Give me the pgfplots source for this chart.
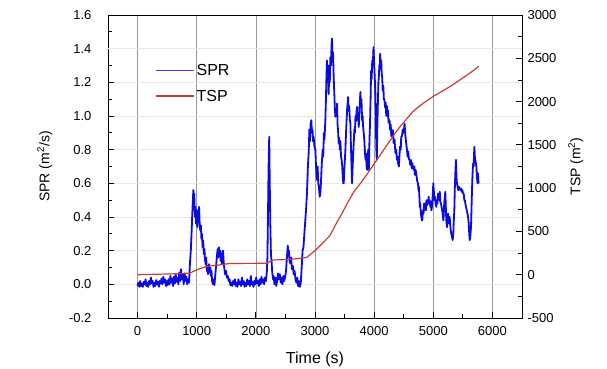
\documentclass[border=0pt]{standalone}
\usepackage{fontspec}
\setmainfont{Liberation Sans}
\usepackage{pgfplots}
\pgfplotsset{compat=1.18}
\definecolor{sprblue}{RGB}{10,10,225}
\definecolor{tspred}{RGB}{200,60,50}
\begin{document}
\begin{tikzpicture}
\path[use as bounding box] (-108pt,-50pt) rectangle (499pt,318pt);
\begin{axis}[
  at={(0pt,0pt)}, anchor=south west,
  scale only axis, width=414pt, height=303pt,
  xmin=-500, xmax=6500, ymin=-0.2, ymax=1.6,
  xtick={0,1000,2000,3000,4000,5000,6000}, minor x tick num=1,
  ytick={-0.2,0,0.2,0.4,0.6,0.8,1.0,1.2,1.4,1.6}, minor y tick num=1,
  tick align=inside, xtick pos=bottom, ytick pos=left,
  major tick length=6pt, minor tick length=4pt,
  every tick/.style={black, line width=0.8pt},
  axis line style={black, line width=0.9pt},
  /pgf/number format/assume math mode=true,
  xticklabel style={/pgf/number format/1000 sep={}, yshift=-5pt},
  yticklabel style={/pgf/number format/.cd, fixed, fixed zerofill, precision=1, /tikz/.cd, xshift=-13pt},
  tick label style={font=\fontsize{13}{13}\selectfont},
  xmajorgrids, ymajorgrids,
  major x grid style={black!40, line width=0.6pt},
  major y grid style={black!9, line width=0.8pt},
  extra y ticks={1.4}, extra y tick labels={},
  extra y tick style={grid=major, major grid style={black!35, line width=0.9pt}, major tick length=0pt},
  xlabel={Time (s)}, ylabel={SPR (m\textsuperscript{2}/s)},
  xlabel shift=9pt, ylabel shift=10pt,
  xlabel style={font=\fontsize{16}{16}\selectfont},
  ylabel style={font=\fontsize{14}{14}\selectfont},
]
\addplot[sprblue, line width=1.8pt, line join=round] coordinates {
(0,-0.01) (15,0.01) (30,-0.015) (45,0.02) (60,-0.01) (75,0.005) (90,-0.015) (105,0.015) (120,0.0) (135,0.03) (150,-0.01) (165,0.01) (180,-0.015) (195,0.02) (210,0.0) (225,0.04) (240,0.005) (255,0.02) (270,-0.015) (285,0.01) (300,-0.01) (315,0.025) (330,0.0) (345,0.015) (360,-0.015) (375,0.02) (390,0.005) (405,0.035) (420,0.0) (435,0.045) (450,0.01) (465,0.03) (480,-0.01) (495,0.02) (510,-0.005) (525,0.03) (540,0.0) (555,0.05) (570,0.01) (585,0.035) (600,-0.01) (615,0.045) (630,0.005) (645,0.06) (660,0.015) (675,0.04) (690,0.0) (705,0.07) (720,0.02) (735,0.09) (750,0.03) (765,0.06) (780,0.0) (795,0.065) (810,0.02) (825,0.045) (840,0.0) (855,0.03) (870,0.01)
(885,0.12) (900,0.2) (915,0.32) (925,0.42) (935,0.5) (943,0.56) (950,0.5) (958,0.54) (965,0.44) (972,0.4) (980,0.46) (990,0.36) (1000,0.4) (1010,0.34) (1020,0.44) (1030,0.38) (1040,0.46) (1050,0.36) (1060,0.32) (1070,0.35) (1080,0.27) (1090,0.3) (1100,0.22) (1110,0.26) (1120,0.18) (1130,0.21) (1140,0.15) (1150,0.12) (1160,0.16) (1170,0.08) (1180,0.11) (1190,0.06) (1200,0.1) (1210,0.12) (1220,0.07) (1230,0.1) (1240,0.05) (1250,0.08) (1260,0.02) (1275,0.0) (1290,0.03) (1300,-0.005) (1315,0.06) (1330,0.12) (1345,0.18) (1355,0.21) (1365,0.16) (1375,0.22) (1385,0.18) (1395,0.2) (1405,0.14) (1415,0.16) (1425,0.12) (1435,0.19) (1445,0.2) (1455,0.14) (1465,0.1) (1480,0.06) (1495,0.08) (1510,0.04) (1525,0.05) (1540,0.02) (1555,0.03) (1570,-0.005) (1585,0.01)
(1600,-0.01) (1615,0.02) (1630,0.0) (1645,0.03) (1660,-0.01) (1675,0.01) (1690,-0.015) (1705,0.03) (1720,0.0) (1735,0.015) (1750,-0.01) (1765,0.04) (1780,0.0) (1795,0.02) (1810,-0.015) (1825,0.01) (1840,-0.01) (1855,0.03) (1870,0.0) (1885,0.02) (1900,-0.01) (1915,0.05) (1930,0.0) (1945,0.015) (1960,-0.015) (1975,0.02) (1990,0.0) (2005,0.04) (2020,0.005) (2035,0.02) (2050,-0.01) (2065,0.03) (2080,0.0) (2095,0.045) (2110,0.01) (2125,0.03) (2140,0.0) (2155,0.04) (2170,0.02) (2185,0.07) (2195,0.15) (2205,0.4) (2215,0.7) (2226,0.876) (2235,0.6) (2245,0.35) (2255,0.18) (2265,0.14) (2275,0.08) (2290,0.03) (2300,0.05) (2315,0.0) (2330,0.04) (2345,-0.01) (2360,0.02) (2375,0.065) (2390,0.03) (2405,0.06) (2420,0.01) (2435,0.04) (2450,0.0) (2465,0.05) (2480,0.02) (2495,0.045) (2510,0.08) (2525,0.16) (2540,0.23) (2550,0.17) (2560,0.2) (2570,0.14) (2582,0.125) (2595,0.16) (2610,0.09) (2625,0.11) (2640,0.06) (2655,0.08) (2670,0.03) (2685,0.01) (2700,0.04) (2715,-0.01) (2730,0.02) (2745,-0.015) (2760,0.01)
(2775,0.1) (2790,0.2) (2805,0.22) (2820,0.3) (2836,0.38) (2850,0.45) (2864,0.54) (2880,0.7) (2893,0.78) (2905,0.92) (2915,0.85) (2925,0.95) (2938,0.975) (2948,0.9) (2958,0.92) (2968,0.85) (2977,0.876) (2990,0.82) (3006,0.8) (3015,0.72) (3025,0.66) (3034,0.62) (3045,0.7) (3055,0.6) (3065,0.58) (3080,0.52) (3090,0.54) (3100,0.6) (3110,0.68) (3118,0.74) (3130,0.8) (3140,0.76) (3150,0.9) (3160,0.86) (3175,0.975) (3185,1.1) (3195,1.25) (3203,1.33) (3212,1.2) (3222,1.3) (3231,1.13) (3240,1.25) (3250,1.2) (3260,1.35) (3270,1.3) (3280,1.42) (3288,1.46) (3296,1.32) (3305,1.38) (3316,1.23) (3325,1.15) (3335,1.05) (3345,0.995) (3355,1.04) (3365,1.0) (3373,1.074) (3382,0.95) (3392,0.9) (3401,0.837) (3410,0.87) (3420,0.8) (3430,0.85) (3440,0.76) (3450,0.74) (3460,0.7) (3470,0.64) (3478,0.6) (3486,0.6) (3495,0.68) (3505,0.74) (3514,0.8) (3525,0.9) (3535,0.98) (3545,1.05) (3553,1.08) (3559,1.113) (3568,1.03) (3578,1.06) (3588,0.98) (3599,0.955) (3608,0.82) (3618,0.7) (3627,0.6) (3637,0.7) (3646,0.78) (3655,0.837) (3665,0.92) (3675,0.9) (3685,1.0) (3695,0.97) (3703,1.03) (3712,1.054) (3722,0.98) (3730,1.0) (3740,0.935) (3748,1.0) (3758,1.08) (3768,1.143) (3778,1.05) (3786,1.1) (3796,0.975) (3805,1.0) (3815,0.93) (3825,0.896) (3835,0.85) (3845,0.78) (3855,0.74) (3864,0.777) (3872,0.7) (3881,0.68) (3890,0.72) (3900,0.8) (3910,0.68) (3921,0.857) (3930,0.95) (3940,1.1) (3949,1.27) (3958,1.22) (3968,1.33) (3978,1.3) (3989,1.41) (3998,1.33) (4008,1.25) (4016,1.18) (4023,1.113) (4032,0.9) (4039,0.78) (4045,0.74) (4055,0.95) (4065,1.1) (4072,1.2) (4079,1.23) (4088,1.3) (4095,1.28) (4102,1.37) (4110,1.3) (4120,1.33) (4128,1.25) (4136,1.23) (4145,1.15) (4155,1.18) (4165,1.1) (4175,1.094) (4185,1.05) (4195,1.08) (4205,1.0) (4215,1.06) (4225,1.0) (4232,1.034) (4245,0.96) (4260,0.975) (4270,0.92) (4280,0.95) (4290,0.88) (4300,0.9) (4317,0.916) (4330,0.84) (4345,0.86) (4360,0.78) (4373,0.8) (4385,0.74) (4395,0.76) (4405,0.72) (4418,0.70) (4430,0.78) (4440,0.82) (4450,0.8) (4458,0.876) (4470,0.88) (4485,0.92) (4500,0.9) (4514,0.955) (4525,0.9) (4535,0.86) (4542,0.837) (4555,0.8) (4565,0.76) (4575,0.79) (4590,0.74) (4599,0.74) (4610,0.71) (4620,0.74) (4635,0.69) (4645,0.72) (4655,0.70) (4668,0.68) (4680,0.7) (4690,0.65) (4700,0.68) (4712,0.66) (4725,0.62) (4740,0.6) (4750,0.56) (4757,0.58) (4765,0.52) (4772,0.46) (4780,0.48) (4790,0.42) (4800,0.4) (4808,0.38) (4814,0.38) (4825,0.44) (4835,0.42) (4845,0.48) (4853,0.46) (4864,0.48) (4875,0.44) (4885,0.5) (4895,0.47) (4905,0.5) (4915,0.48) (4921,0.52) (4930,0.48) (4940,0.5) (4950,0.46) (4960,0.49) (4968,0.44) (4977,0.46) (4985,0.5) (4993,0.54) (5000,0.60) (5010,0.55) (5020,0.5) (5030,0.52) (5040,0.48) (5051,0.46) (5060,0.5) (5070,0.48) (5080,0.54) (5090,0.52) (5100,0.5) (5110,0.55) (5120,0.49) (5130,0.48) (5140,0.46) (5150,0.44) (5160,0.42) (5170,0.38) (5175,0.40) (5185,0.48) (5195,0.52) (5203,0.55) (5212,0.46) (5220,0.38) (5232,0.34) (5240,0.38) (5250,0.42) (5260,0.38) (5270,0.36) (5277,0.40) (5285,0.36) (5295,0.32) (5305,0.3) (5318,0.28) (5328,0.263) (5338,0.3) (5347,0.38) (5356,0.44) (5365,0.58) (5375,0.68) (5384,0.74) (5392,0.64) (5400,0.6) (5412,0.58) (5422,0.56) (5432,0.58) (5445,0.57) (5458,0.56) (5470,0.57) (5480,0.55) (5492,0.56) (5503,0.54) (5514,0.54) (5525,0.5) (5535,0.5) (5542,0.48) (5555,0.46) (5565,0.44) (5578,0.42) (5588,0.40) (5600,0.36) (5608,0.3) (5616,0.263) (5625,0.28) (5638,0.34) (5650,0.5) (5660,0.62) (5667,0.68) (5675,0.72) (5683,0.7) (5690,0.78) (5695,0.817) (5703,0.76) (5710,0.74) (5720,0.72) (5729,0.70) (5738,0.64) (5748,0.6) (5755,0.66) (5762,0.62) (5768,0.60)
};
\end{axis}
\begin{axis}[
  at={(0pt,0pt)}, anchor=south west,
  scale only axis, width=414pt, height=303pt,
  xmin=-500, xmax=6500, ymin=-500, ymax=3000,
  axis x line=none, axis y line*=right,
  ytick={-500,0,500,1000,1500,2000,2500,3000}, minor y tick num=1,
  tick align=inside,
  major tick length=6pt, minor tick length=4pt,
  every tick/.style={black, line width=0.8pt},
  axis line style={black, line width=0.9pt},
  /pgf/number format/assume math mode=true,
  yticklabel style={/pgf/number format/1000 sep={}, xshift=2pt},
  tick label style={font=\fontsize{13}{13}\selectfont},
  ylabel={TSP (m\textsuperscript{2})}, ylabel shift=5pt,
  ylabel style={font=\fontsize{14}{14}\selectfont},
  legend style={draw=none, fill=none, at={(0.1135,0.845)}, anchor=north west,
    font=\fontsize{16}{16}\selectfont, inner sep=0pt, row sep=9pt},
  legend cell align=left,
  legend image code/.code={\draw[#1] (0pt,0pt) -- (38pt,0pt);},
]
\addlegendimage{sprblue!80!white, line width=1pt}
\addlegendentry{SPR}
\addlegendimage{tspred, line width=1.4pt}
\addlegendentry{TSP}
\addplot[tspred, line width=1.2pt, forget plot] coordinates {
(0,0) (300,5) (600,10) (880,18) (950,40) (1050,70) (1150,90) (1220,100) (1350,110) (1560,130) (2190,132) (2240,155) (2290,170) (2500,175) (2700,185) (2860,200) (2950,250) (3050,310) (3150,380) (3250,450) (3350,580) (3450,700) (3550,830) (3650,950) (3750,1040) (3850,1130) (3950,1230) (4050,1330) (4150,1430) (4250,1530) (4350,1630) (4450,1720) (4550,1800) (4650,1880) (4750,1940) (4850,1990) (5000,2060) (5150,2120) (5300,2180) (5450,2250) (5600,2320) (5700,2370) (5768,2410)
};
\end{axis}
\end{tikzpicture}
\end{document}
